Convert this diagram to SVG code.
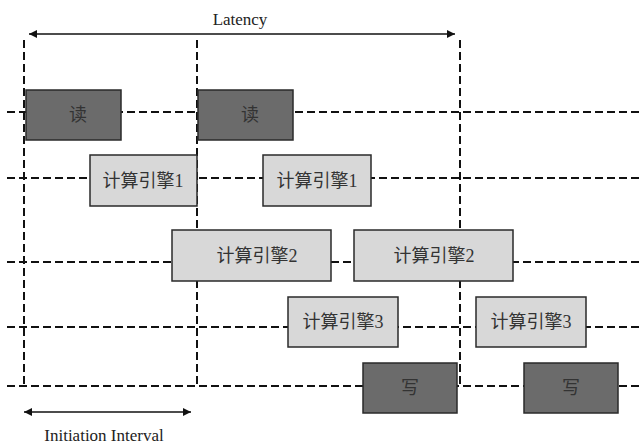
<svg xmlns="http://www.w3.org/2000/svg" width="642" height="444" viewBox="0 0 642 444">
<style>
.grid{stroke:#111;stroke-width:2;stroke-dasharray:8 4;fill:none}
.arr{stroke:#111;stroke-width:1.5;fill:none}
.dark{fill:#6b6b6b;stroke:#2a2a2a;stroke-width:1.5}
.light{fill:#d8d8d8;stroke:#2a2a2a;stroke-width:1.5}
.t{font-family:"Liberation Serif","Noto Sans CJK SC",serif;font-size:18px;fill:#333;text-anchor:middle;dominant-baseline:central}
.lbl{font-family:"Liberation Serif",serif;font-size:17px;fill:#222;text-anchor:middle}
</style>
<defs>
<marker id="ah" viewBox="0 0 10 10" refX="10" refY="5" markerWidth="10" markerHeight="8" markerUnits="userSpaceOnUse" orient="auto-start-reverse">
<path d="M0,0 L10,5 L0,10 z" fill="#111"/>
</marker>
</defs>
<rect width="642" height="444" fill="#fff"/>
<g id="connectors">
<line class="grid" x1="7" y1="112" x2="642" y2="112"/>
<line class="grid" x1="7" y1="178" x2="642" y2="178"/>
<line class="grid" x1="7" y1="262" x2="642" y2="262"/>
<line class="grid" x1="7" y1="327" x2="642" y2="327"/>
<line class="grid" x1="7" y1="386" x2="642" y2="386"/>
<line class="grid" x1="24" y1="40" x2="24" y2="386"/>
<line class="grid" x1="197" y1="40" x2="197" y2="386"/>
<line class="grid" x1="460" y1="40" x2="460" y2="386"/>
<line class="arr" x1="29" y1="34" x2="455" y2="34" marker-start="url(#ah)" marker-end="url(#ah)"/>
<line class="arr" x1="24" y1="412" x2="191" y2="412" marker-start="url(#ah)" marker-end="url(#ah)"/>
<text class="lbl" x="240" y="25">Latency</text>
<text class="lbl" x="104" y="441">Initiation Interval</text>
</g>
<g id="read1"><rect class="dark" x="26" y="90" width="95" height="50"/><text class="t" x="78" y="115">读</text></g>
<g id="read2"><rect class="dark" x="198" y="90" width="95" height="50"/><text class="t" x="250" y="115">读</text></g>
<g id="engine1a"><rect class="light" x="90" y="155" width="107" height="51"/><text class="t" x="143" y="181">计算引擎1</text></g>
<g id="engine1b"><rect class="light" x="263" y="155" width="108" height="51"/><text class="t" x="317" y="181">计算引擎1</text></g>
<g id="engine2a"><rect class="light" x="172" y="230" width="159" height="51"/><text class="t" x="257" y="256">计算引擎2</text></g>
<g id="engine2b"><rect class="light" x="354" y="230" width="159" height="51"/><text class="t" x="434" y="256">计算引擎2</text></g>
<g id="engine3a"><rect class="light" x="288" y="297" width="110" height="50"/><text class="t" x="343" y="322">计算引擎3</text></g>
<g id="engine3b"><rect class="light" x="476" y="297" width="110" height="50"/><text class="t" x="531" y="322">计算引擎3</text></g>
<g id="write1"><rect class="dark" x="363" y="363" width="94" height="50"/><text class="t" x="410" y="388">写</text></g>
<g id="write2"><rect class="dark" x="524" y="363" width="94" height="50"/><text class="t" x="571" y="388">写</text></g>
</svg>
